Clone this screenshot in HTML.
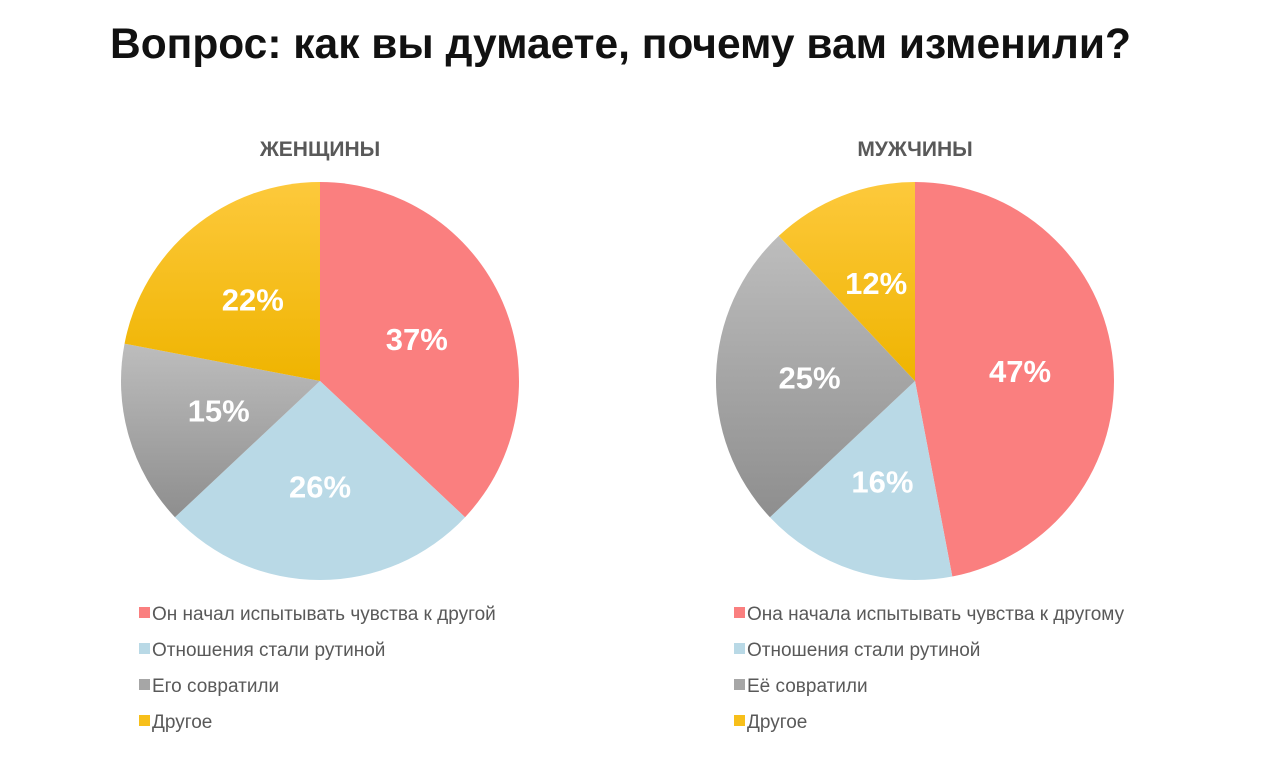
<!DOCTYPE html>
<html><head><meta charset="utf-8">
<style>
body{margin:0;width:1280px;height:757px;background:#fff;overflow:hidden;font-family:"Liberation Sans","DejaVu Sans",sans-serif;}
svg{position:absolute;left:0;top:0}
</style></head>
<body>
<svg width="1280" height="757">
<defs>
<linearGradient id="gGray" x1="0" y1="0" x2="0" y2="1"><stop offset="0" stop-color="#bdbdbd"/><stop offset="1" stop-color="#8e8e8e"/></linearGradient>
<linearGradient id="gYel" x1="0" y1="0" x2="0" y2="1"><stop offset="0" stop-color="#fdc93c"/><stop offset="1" stop-color="#efb400"/></linearGradient>
</defs>
<text x="110" y="58" font-size="42.5" font-weight="bold" fill="#111">Вопрос: как вы думаете, почему вам изменили?</text>
<g id="charts"></g>
</svg>
<script>
const categoriesF = ["Он начал испытывать чувства к другой","Отношения стали рутиной","Его совратили","Другое"];
const categoriesM = ["Она начала испытывать чувства к другому","Отношения стали рутиной","Её совратили","Другое"];
const valuesF = [37,26,15,22];
const valuesM = [47,16,25,12];
const titles = ["ЖЕНЩИНЫ","МУЖЧИНЫ"];
const colors = ["#fa7f7f","#b9d9e6","url(#gGray)","url(#gYel)"];
const legendColors = ["#fa7f7f","#b9d9e6","#a6a6a6","#f7bf1a"];
const NS="http://www.w3.org/2000/svg";
const g=document.getElementById('charts');
function mk(t,a){const e=document.createElementNS(NS,t);for(const k in a)e.setAttribute(k,a[k]);return e;}
function drawPie(cx,cy,r,vals,cats,title,idx){
  const tt=mk('text',{x:cx,y:156,'text-anchor':'middle','font-size':21,'font-weight':'bold',fill:'#595959'});
  tt.textContent=title;
  
  
  g.appendChild(tt);
  const tot=vals.reduce((a,b)=>a+b,0);let acc=0;
  vals.forEach((v,i)=>{
    const a0=acc/tot*2*Math.PI;acc+=v;const a1=acc/tot*2*Math.PI;
    const x0=cx+r*Math.sin(a0),y0=cy-r*Math.cos(a0),x1=cx+r*Math.sin(a1),y1=cy-r*Math.cos(a1);
    const large=(a1-a0)>Math.PI?1:0;
    const p=mk('path',{d:`M${cx},${cy}L${x0},${y0}A${r},${r} 0 ${large} 1 ${x1},${y1}Z`,fill:colors[i]});
    
    
    g.appendChild(p);
    const am=(a0+a1)/2,lr=r*0.53;
    const t=mk('text',{x:cx+lr*Math.sin(am),y:cy-lr*Math.cos(am)+11,'text-anchor':'middle','font-size':31,'font-weight':'bold',fill:'#fff'});
    t.textContent=v+'%';
    
    
    g.appendChild(t);
    const lx=cx-181,ly=614+i*36;
    const sq=mk('rect',{x:lx,y:ly-7,width:11,height:11,fill:legendColors[i]});
    
    
    g.appendChild(sq);
    const lt=mk('text',{x:lx+13,y:ly+6,'font-size':19,fill:'#595959'});
    lt.textContent=cats[i];
    
    
    g.appendChild(lt);
  });
}
drawPie(320,381,199,valuesF,categoriesF,titles[0],0);
drawPie(915,381,199,valuesM,categoriesM,titles[1],1);
</script>
</body></html>
